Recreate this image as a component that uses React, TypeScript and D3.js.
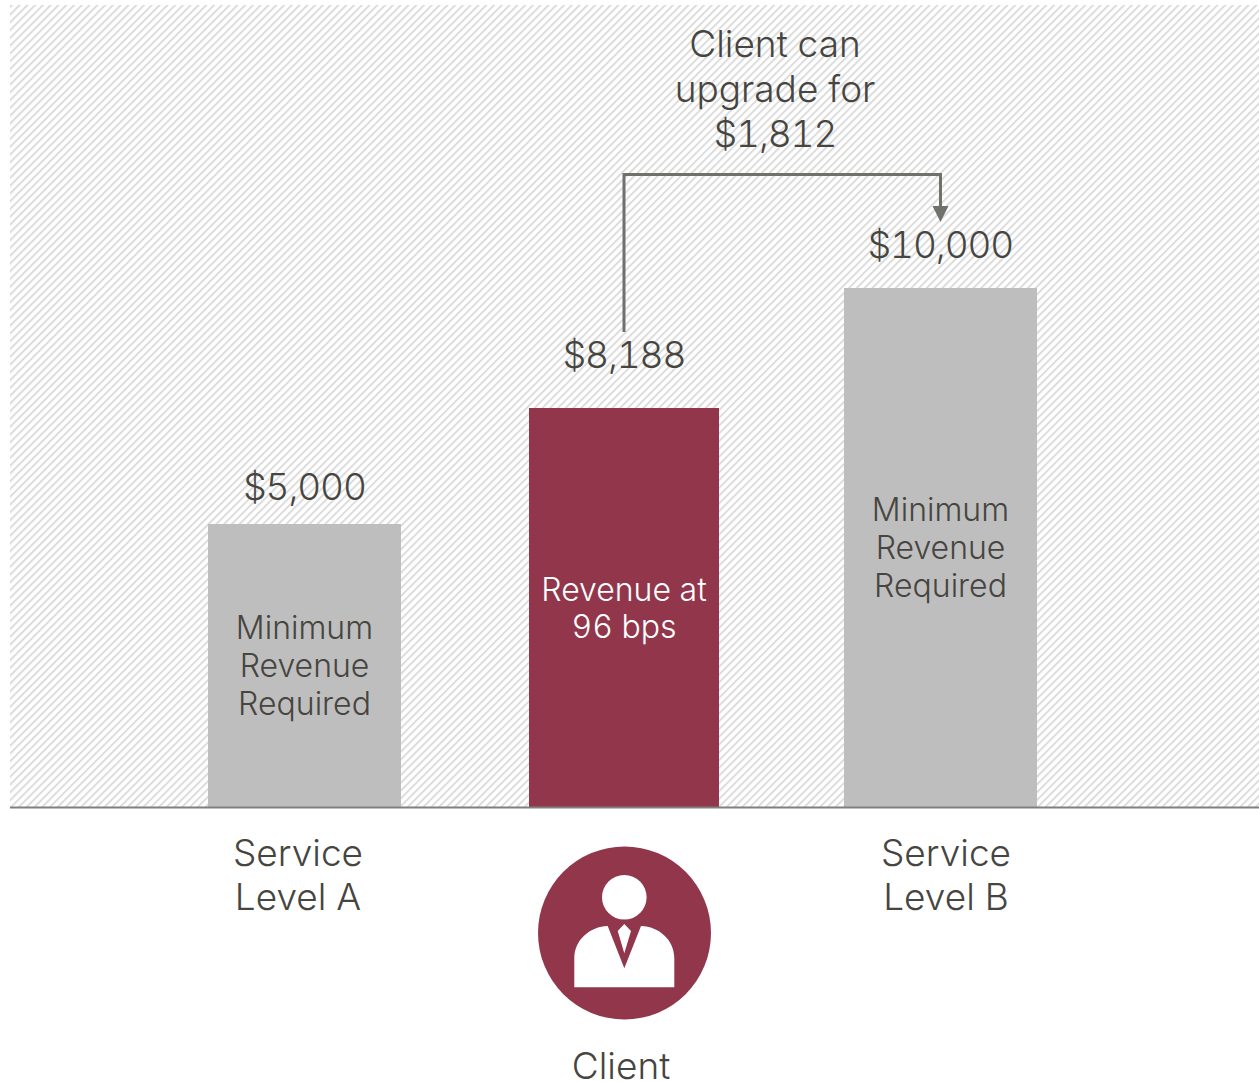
import React from "react";
import * as d3 from "d3";

const categories = ["Service Level A", "Client", "Service Level B"];
const revenueValues = [5000, 8188, 10000];
const valueLabels = ["$5,000", "$8,188", "$10,000"];
const labelGaps = [24, 40, 30];
const barLabels = [
  ["Minimum", "Revenue", "Required"],
  ["Revenue at", "96 bps"],
  ["Minimum", "Revenue", "Required"],
];
const axisLabels = [["Service", "Level A"], [], ["Service", "Level B"]];
const upgradeLabel = ["Client can", "upgrade for", "$1,812"];

const WIDTH = 1259;
const HEIGHT = 1082;
const BASE_Y = 808;
const MAROON = "#92364b";
const GREY_BAR = "#bebebe";
const TEXT = "#46453f";
const FONT = "Inter, 'Liberation Sans', sans-serif";

// The bar heights are schematic rather than proportional, so the scale is piecewise.
const yScale = d3.scaleLinear().domain([0, 5000, 8188, 10000]).range([BASE_Y, 524, 408, 288]);
const xScale = d3.scaleOrdinal<string, number>().domain(categories).range([208, 529, 844]);
const barWidths = d3.scaleOrdinal<string, number>().domain(categories).range([193, 190, 193]);
const barColors = d3.scaleOrdinal<string, string>().domain(categories).range([GREY_BAR, MAROON, GREY_BAR]);

function Lines({ lines, x, y, step, size, fill }: { lines: string[]; x: number; y: number; step: number; size: number; fill: string }) {
  return (
    <text textAnchor="middle" fontFamily={FONT} fontWeight={300} fontSize={size} fill={fill} style={{ fontVariantNumeric: "tabular-nums" }}>
      {lines.map((l, i) => (
        // Dollar amounts sit a little tighter than the running text.
        <tspan key={l} x={x} y={y + i * step} letterSpacing={l.startsWith("$") ? -1.1 : 0}>{l}</tspan>
      ))}
    </text>
  );
}

export default function App() {
  const cx = categories.map((c) => (xScale(c) as number) + (barWidths(c) as number) / 2);
  const bracket = d3.path();
  bracket.moveTo(cx[1], 332);
  bracket.lineTo(cx[1], 174.5);
  bracket.lineTo(cx[2], 174.5);
  bracket.lineTo(cx[2], 208);

  return (
    <svg width={WIDTH} height={HEIGHT} viewBox={`0 0 ${WIDTH} ${HEIGHT}`} style={{ position: "absolute", left: 0, top: 0, display: "block" }}>
      <defs>
        <pattern id="hatch" width={5.5} height={5.5} patternUnits="userSpaceOnUse" patternTransform="rotate(45)">
          <rect width={2} height={5.5} fill="#dcdcdc" />
        </pattern>
      </defs>
      <rect width={WIDTH} height={HEIGHT} fill="#ffffff" />
      <rect x={10} y={5} width={WIDTH - 10} height={BASE_Y - 5} fill="url(#hatch)" />

      {categories.map((c, i) => (
        <rect key={c} x={xScale(c) as number} y={yScale(revenueValues[i])} width={barWidths(c) as number} height={BASE_Y - yScale(revenueValues[i])} fill={barColors(c) as string} />
      ))}
      <line x1={10} x2={WIDTH} y1={807.5} y2={807.5} stroke="#80807c" strokeWidth={2} />

      {categories.map((c, i) => (
        <Lines key={c} lines={[valueLabels[i]]} x={cx[i]} y={yScale(revenueValues[i]) - labelGaps[i]} step={0} size={37} fill={TEXT} />
      ))}

      <Lines lines={barLabels[0]} x={cx[0]} y={639} step={38.2} size={32} fill={TEXT} />
      <Lines lines={barLabels[1]} x={cx[1]} y={601} step={37} size={32} fill="#ffffff" />
      <Lines lines={barLabels[2]} x={cx[2]} y={521} step={38.2} size={32} fill={TEXT} />

      <Lines lines={axisLabels[0]} x={298} y={866} step={44} size={37} fill={TEXT} />
      <Lines lines={axisLabels[2]} x={946} y={866} step={44} size={37} fill={TEXT} />
      <Lines lines={upgradeLabel} x={775} y={57} step={45} size={37} fill={TEXT} />

      <path d={bracket.toString()} fill="none" stroke="#6f716d" strokeWidth={3} />
      <path d={d3.line()([[cx[2] - 8, 206], [cx[2] + 8, 206], [cx[2], 222]]) + "Z"} fill="#6f716d" />

      <circle cx={624.5} cy={933} r={86.5} fill={MAROON} />
      <circle cx={624.3} cy={897.3} r={22.3} fill="#ffffff" />
      <path
        d="M574.3 987.3V958C574.3 940 590 926.5 607.7 926L624.3 968.3L641 926C659 926.5 674.3 940 674.3 958V987.3Z"
        fill="#ffffff"
      />
      <path d="M624.3 924L617.7 931L624.3 953.3L631 931Z" fill="#ffffff" />

      <Lines lines={[categories[1]]} x={621} y={1079} step={0} size={37} fill={TEXT} />
    </svg>
  );
}
